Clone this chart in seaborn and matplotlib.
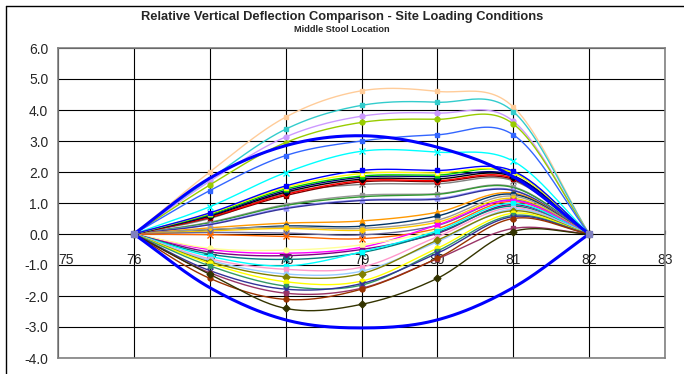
import numpy as np
import matplotlib
matplotlib.use("Agg")
import matplotlib.pyplot as plt
import seaborn as sns

# stations along the beam; end stations are fixed at zero
stations = [76, 77, 78, 79, 80, 81, 82]
x_ticks = [75, 76, 77, 78, 79, 80, 81, 82, 83]
y_ticks = [-4.0, -3.0, -2.0, -1.0, 0.0, 1.0, 2.0, 3.0, 4.0, 5.0, 6.0]

# deflection at stations 77..81
peach = [2.00, 3.77, 4.62, 4.60, 4.10]
teal = [1.77, 3.38, 4.15, 4.25, 3.95]
lavender = [1.70, 3.13, 3.80, 3.90, 3.64]
lime = [1.58, 2.95, 3.60, 3.70, 3.55]
mid_blue = [1.40, 2.53, 3.00, 3.20, 3.20]
cyan_x = [0.88, 1.98, 2.67, 2.64, 2.35]

blue_sq = [0.68, 1.55, 2.05, 2.05, 2.03]
yellow_w = [0.66, 1.50, 1.95, 1.97, 1.97]
green = [0.63, 1.45, 1.87, 1.90, 1.98]
navy_sq = [0.60, 1.40, 1.83, 1.85, 1.88]
black = [0.58, 1.35, 1.77, 1.78, 1.85]
red = [0.55, 1.28, 1.72, 1.72, 1.80]
maroon = [0.53, 1.24, 1.68, 1.69, 1.76]
gray_x = [0.50, 1.32, 1.60, 1.62, 1.72]

gray_sq = [0.38, 0.95, 1.25, 1.30, 1.52]
green_dk = [0.36, 0.92, 1.20, 1.28, 1.50]
periwinkle = [0.32, 0.85, 1.10, 1.15, 1.42]
indigo = [0.30, 0.82, 1.08, 1.12, 1.40]

orange = [0.20, 0.35, 0.42, 0.70, 1.32]
navy_dot = [0.13, 0.26, 0.25, 0.58, 1.28]
gray_light = [0.15, 0.22, 0.18, 0.45, 1.22]
gold = [0.10, 0.18, 0.12, 0.38, 1.15]
slate_x = [0.05, 0.03, -0.03, 0.28, 1.10]
orange_red = [-0.02, -0.08, -0.15, 0.18, 1.05]

magenta = [-0.50, -0.62, -0.43, 0.29, 1.08]
pale_yellow = [-0.46, -0.52, -0.35, 0.12, 0.92]
purple = [-0.58, -0.70, -0.50, 0.02, 0.95]
teal_dk = [-0.65, -0.82, -0.60, 0.05, 0.90]
cyan_sq = [-0.72, -1.03, -0.58, 0.10, 0.99]
pink = [-0.80, -1.14, -1.07, -0.09, 0.85]
light_blue = [-0.85, -1.29, -1.20, -0.25, 0.80]
olive = [-0.90, -1.38, -1.28, -0.20, 0.75]
yellow = [-0.95, -1.54, -1.52, -0.46, 0.67]
sea_green = [-1.03, -1.68, -1.65, -0.55, 0.60]
indigo_x = [-1.18, -1.78, -1.60, -0.62, 0.56]
plum = [-1.25, -1.91, -1.75, -0.80, 0.18]
brown = [-1.43, -2.11, -1.78, -0.78, 0.50]
dark_olive = [-1.30, -2.40, -2.27, -1.43, 0.08]

# envelopes (thick blue)
env_upper = [1.80, 2.85, 3.17, 2.80, 1.85]
env_lower = [-1.73, -2.77, -3.03, -2.77, -1.73]

# (values, line colour, marker, marker face)
series = [
    (peach, "#FFCC99", "s", None), (teal, "#33CCCC", "s", None),
    (lavender, "#CC99FF", "o", None), (lime, "#99CC00", "o", None),
    (mid_blue, "#3366FF", "s", None), (cyan_x, "#00FFFF", "x", None),
    (gray_sq, "#969696", "s", None), (green_dk, "#339933", None, None),
    (periwinkle, "#9999FF", "^", None), (indigo, "#333399", None, None),
    (orange, "#FF9900", "^", None), (navy_dot, "#003366", "o", None),
    (gray_light, "#999999", "s", None), (gold, "#FFCC00", "o", None),
    (slate_x, "#666699", "x", None), (orange_red, "#FF6600", "x", None),
    (magenta, "#FF00FF", "s", None), (pale_yellow, "#FFFF99", "o", None),
    (purple, "#800080", "s", None), (teal_dk, "#008080", "x", None),
    (cyan_sq, "#00FFFF", "s", None), (pink, "#FF99CC", "s", None),
    (light_blue, "#99CCFF", "o", None), (olive, "#808000", "D", None),
    (yellow, "#FFFF00", "o", None), (sea_green, "#339966", "s", None),
    (indigo_x, "#333399", "x", None), (plum, "#993366", "s", None),
    (brown, "#993300", "o", None), (dark_olive, "#333300", "D", None),
    (gray_x, "#808080", "x", None), (maroon, "#800000", "s", None),
    (red, "#FF0000", "o", None), (black, "#000000", "D", None),
    (navy_sq, "#000080", "s", None), (green, "#00CC00", "^", None),
    (yellow_w, "#FFFF00", "s", "white"), (blue_sq, "#0000FF", "s", None),
]


def smooth(xv, yv, n=24):
    # Catmull-Rom through the points, like Excel's smoothed lines
    p = np.column_stack([xv, yv]).astype(float)
    p = np.vstack([2 * p[0] - p[1], p, 2 * p[-1] - p[-2]])
    out = []
    t = np.linspace(0, 1, n, endpoint=False)[:, None]
    for i in range(1, len(p) - 2):
        p0, p1, p2, p3 = p[i - 1], p[i], p[i + 1], p[i + 2]
        m1 = (p2 - p0) / 2
        m2 = (p3 - p1) / 2
        h00 = 2 * t**3 - 3 * t**2 + 1
        h10 = t**3 - 2 * t**2 + t
        h01 = -2 * t**3 + 3 * t**2
        h11 = t**3 - t**2
        out.append(h00 * p1 + h10 * m1 + h01 * p2 + h11 * m2)
    out.append(p[-2][None, :])
    out = np.vstack(out)
    return out[:, 0], out[:, 1]


sns.set_style("white")
plt.rcParams["font.family"] = ["Liberation Sans", "DejaVu Sans"]

fig = plt.figure(figsize=(6.84, 3.74), dpi=100)
ax = fig.add_axes([58 / 684, 1 - 358 / 374, (665 - 58) / 684, (358 - 48) / 374])

for vals, col, mk, face in series:
    yv = [0.0] + list(vals) + [0.0]
    sx, sy = smooth(stations, yv)
    sns.lineplot(x=sx, y=sy, color=col, lw=1.0, ax=ax, sort=False, estimator=None)
    if mk is not None:
        ax.plot(stations, yv, ls="none", marker=mk, ms=3.5 if mk != "x" else 4,
                color=col, mfc=face if face else col, mec=col, mew=1.0)

for vals in (env_upper, env_lower):
    yv = [0.0] + list(vals) + [0.0]
    sx, sy = smooth(stations, yv)
    sns.lineplot(x=sx, y=sy, color="#0000FF", lw=2.2, ax=ax, sort=False, estimator=None)

# small square markers at the fixed ends
ax.plot([76, 82], [0, 0], ls="none", marker="s", ms=4, color="#8080C0")

ax.set_xlim(75, 83)
ax.set_ylim(-4, 6)
ax.set_yticks(y_ticks)
ax.set_yticklabels([f"{v:.1f}" for v in y_ticks], fontsize=10)
ax.set_xticks(x_ticks)
ax.tick_params(axis="x", bottom=False, labelbottom=False)
ax.tick_params(axis="y", direction="out", length=4, width=0.8, color="#808080", pad=3)
ax.grid(True, color="#000000", lw=0.8)
ax.set_axisbelow(True)
for s in ax.spines.values():
    s.set_color("#808080")
    s.set_linewidth(1.2)
ax.set_xlabel("")
ax.set_ylabel("")

# category labels sit just below the zero line
sec = ax.secondary_xaxis(0.4)
sec.set_xticks(x_ticks)
sec.set_xticklabels([str(v) for v in x_ticks], fontsize=10)
sec.tick_params(direction="in", length=3, width=0.8, pad=14)
sec.spines["bottom"].set_visible(False)
sec.get_xticklabels()[0].set_horizontalalignment("left")

fig.text(0.5, 1 - 17 / 374, "Relative Vertical Deflection Comparison - Site Loading Conditions",
         ha="center", va="center", fontsize=9.3, fontweight="bold")
fig.text(0.5, 1 - 30 / 374, "Middle Stool Location", ha="center", va="center",
         fontsize=6.6, fontweight="bold")

# chart-area frame (top and left edges visible)
fig.add_artist(plt.Line2D([6 / 684, 1.0], [1 - 6 / 374] * 2, color="black", lw=1.0,
                          transform=fig.transFigure))
fig.add_artist(plt.Line2D([6 / 684] * 2, [0.0, 1 - 6 / 374], color="black", lw=1.0,
                          transform=fig.transFigure))

fig.savefig("out.png", dpi=100)
